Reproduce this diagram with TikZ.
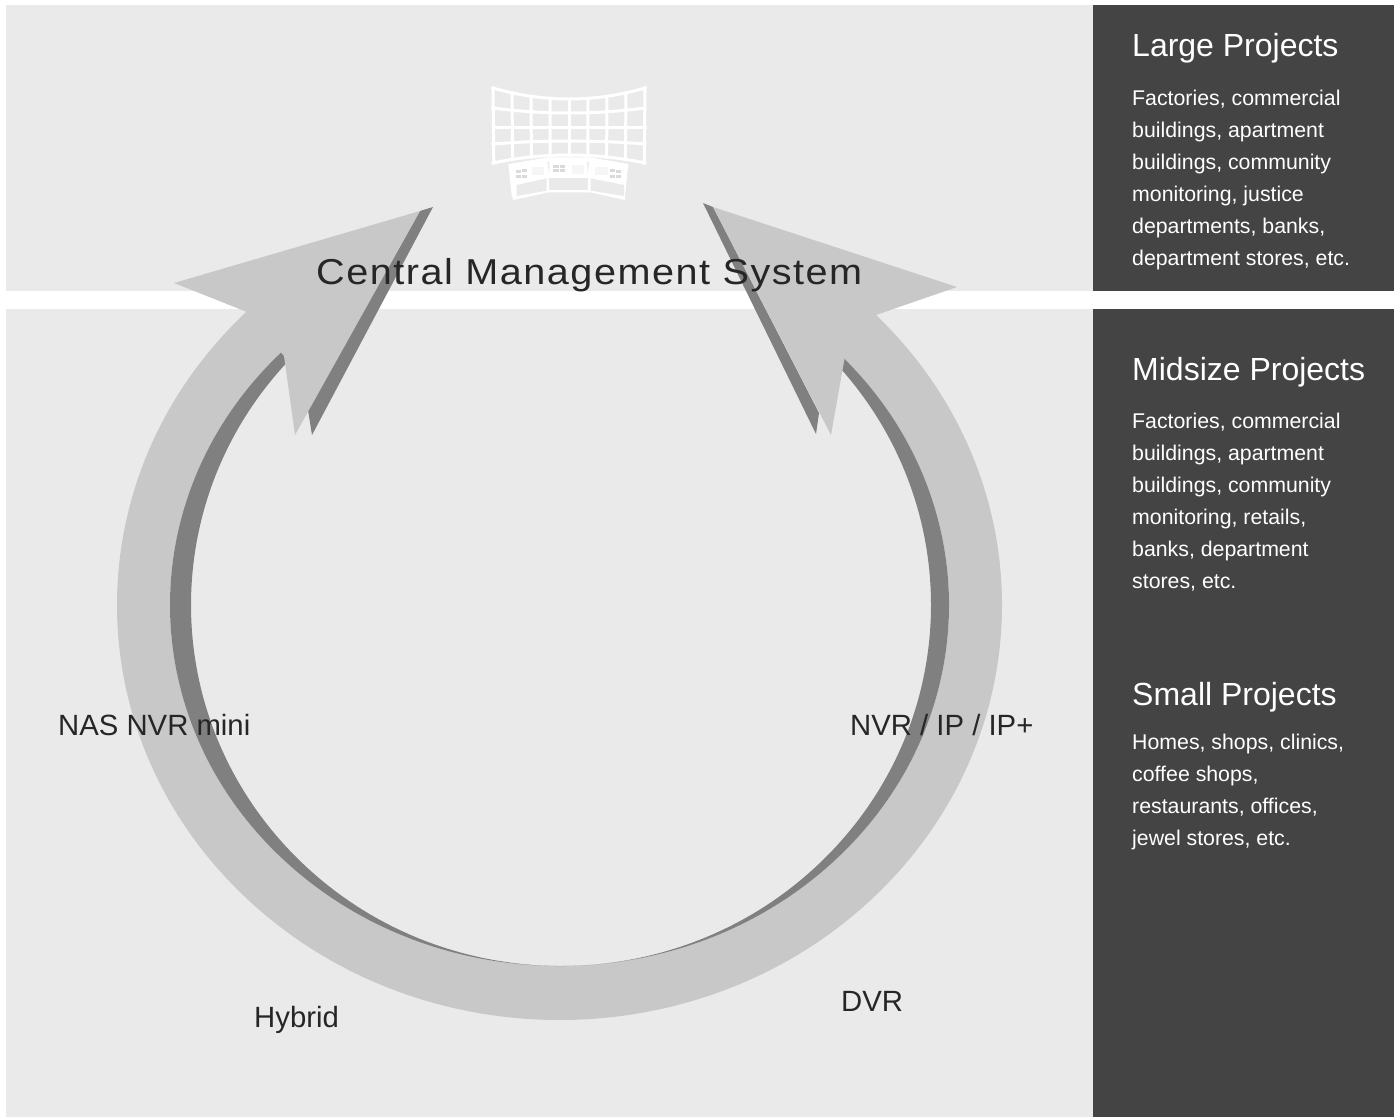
\documentclass[tikz,border=0pt]{standalone}
\usepackage{fontspec}
\setmainfont{Liberation Sans}
\newfontfamily\titlefont[FakeStretch=1.1,LetterSpace=4.2]{Liberation Sans}
\definecolor{panelbg}{HTML}{EAEAEA}
\definecolor{paneldark}{HTML}{444444}
\definecolor{ringlight}{HTML}{C8C8C8}
\definecolor{ringdark}{HTML}{808080}
\definecolor{labeltext}{HTML}{262626}
\tikzset{
    headline/.style={anchor=base west, inner sep=0pt, text=white, font=\fontsize{32}{32}\selectfont},
    bodytext/.style={anchor=north west, inner sep=0pt, text=white, align=left, font=\fontsize{21.3}{32}\selectfont},
    ringlabel/.style={anchor=base west, inner sep=0pt, text=labeltext, font=\fontsize{29.3}{29.3}\selectfont},
    iconline/.style={draw=white, line width=3pt, line cap=rect},
}
\begin{document}
\begin{tikzpicture}[x=1pt, y=-1pt]
    \useasboundingbox (0,0) rectangle (1399,1117);

    \fill[panelbg] (6,5) rectangle (1093,291);
    \fill[panelbg] (6,309) rectangle (1093,1117);
    \fill[paneldark] (1093,5) rectangle (1394,291);
    \fill[paneldark] (1093,309) rectangle (1394,1117);

    % ring
    \fill[ringlight] ([shift={(559.5,605)}]225:442.5 and 415)
        arc[start angle=225, end angle=-45, x radius=442.5, y radius=415]
        -- ([shift={(559.5,605)}]-45:389.5 and 361)
        arc[start angle=-45, end angle=225, x radius=389.5, y radius=361] -- cycle;
    \fill[ringdark] ([shift={(559.5,605)}]225:389.5 and 361)
        arc[start angle=225, end angle=-45, x radius=389.5, y radius=361]
        -- ([shift={(561,605)}]-45:370 and 361)
        arc[start angle=-45, end angle=225, x radius=370, y radius=361] -- cycle;

    % arrow heads
    \fill[ringdark] (420,211) -- (433,207) -- (312,435) -- (308,410) -- cycle;
    \fill[ringlight] (420,211) -- (174,283) -- (247,312) -- (284,356) -- (295,435) -- cycle;
    \fill[ringdark] (703,203) -- (713,207) -- (819,413) -- (816,434) -- cycle;
    \fill[ringlight] (713,207) -- (957,287) -- (876,315) -- (845,356) -- (831,435) -- cycle;

    % video wall
    \foreach \row/\edge/\mid in {0/88/99, 1/108/113, 2/127/127, 3/144/141, 4/163/155} {
        \draw[iconline] (493,\edge) .. controls (543,{\edge+(\mid-\edge)*4/3}) and (595,{\edge+(\mid-\edge)*4/3}) .. (645,\edge);
    }
    \foreach \col in {-4,...,4} {
        \draw[iconline] ({569+\col*19},{99-11*(\col/4)*(\col/4)}) -- ({569+\col*18.8},{155+8*(\col/4)*(\col/4)});
    }
    \begin{scope}[shift={(470,70)}, x=1pt/3, y=-1pt/3]
        \fill[white] (115,282) -- (235,262) -- (360,262) -- (475,282) -- (465,378) -- (465,390)
            -- (360,367) -- (235,367) -- (130,390) -- (125,375) -- cycle;
        \fill[panelbg] (140,345) -- (230,325) -- (230,362) -- (140,378) -- cycle;
        \fill[panelbg] (238,325) -- (355,325) -- (355,360) -- (238,360) -- cycle;
        \fill[panelbg] (362,325) -- (462,345) -- (462,378) -- (362,362) -- cycle;
        \fill[panelbg] (232,275) -- (238,275) -- (238,312) -- cycle;
        \fill[panelbg] (352,275) -- (358,275) -- (352,312) -- cycle;
        \foreach \bx/\by in {138/300, 155/298, 138/316, 155/314, 250/285, 270/285, 250/298, 270/298, 420/298, 437/300, 420/314, 437/316} {
            \fill[panelbg!85!ringdark] (\bx,\by) rectangle ++(16,9);
        }
        \foreach \bx/\by in {185/290, 305/285, 375/290} {
            \fill[panelbg!45!white] (\bx,\by) rectangle ++(38,26);
        }
    \end{scope}

    \node[anchor=base west, inner sep=0pt, text=labeltext, font=\fontsize{36}{36}\titlefont] (cms) at (316,284) {Central Management System};

    \node[headline] (largehead) at (1132,56) {Large Projects};
    \node[bodytext] (largebody) at (1132,90) {Factories, commercial\\buildings, apartment\\buildings, community\\monitoring, justice\\departments, banks,\\department stores, etc.};
    \node[headline] (midhead) at (1132,380) {Midsize Projects};
    \node[bodytext] (midbody) at (1132,413) {Factories, commercial\\buildings, apartment\\buildings, community\\monitoring, retails,\\banks, department\\stores, etc.};
    \node[headline] (smallhead) at (1132,705) {Small Projects};
    \node[bodytext] (smallbody) at (1132,734) {Homes, shops, clinics,\\coffee shops,\\restaurants, offices,\\jewel stores, etc.};

    \node[ringlabel] (nas) at (58,735) {NAS NVR mini};
    \node[ringlabel] (nvr) at (850,735) {NVR / IP / IP+};
    \node[ringlabel] (hybrid) at (254,1027) {Hybrid};
    \node[ringlabel] (dvr) at (841,1011) {DVR};
\end{tikzpicture}
\end{document}
